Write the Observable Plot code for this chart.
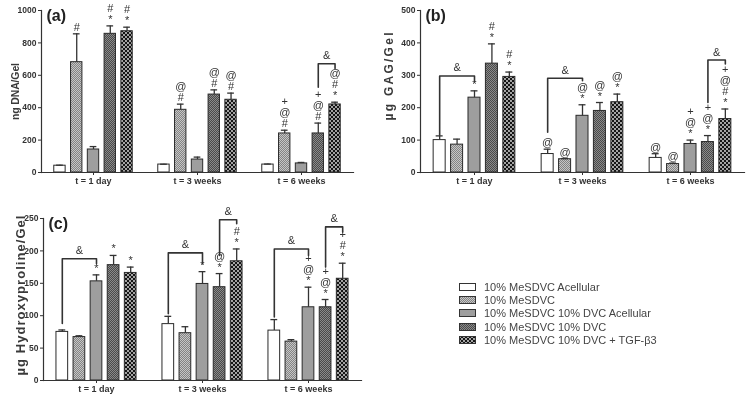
<!DOCTYPE html>
<html><head><meta charset="utf-8">
<script src="https://cdn.jsdelivr.net/npm/d3@7"></script>
<script src="https://cdn.jsdelivr.net/npm/@observablehq/plot@0.6"></script>
<style>
body{margin:0;background:#fff;}
#root{position:relative;width:754px;height:400px;overflow:hidden;font-family:"Liberation Sans",Arial,sans-serif;background:#fff;filter:grayscale(1);}
.panel{position:absolute;}
.panel svg{overflow:visible;}
#legend{position:absolute;left:459px;top:280px;font-size:11px;color:#444;font-family:"Liberation Sans",Arial,sans-serif;}
.row{display:flex;align-items:center;height:13.3px;white-space:nowrap;}
.row svg{margin-right:8px;}
</style></head><body>
<svg width="0" height="0" style="position:absolute">
<defs>
<pattern id="hatchLight" width="2" height="2" patternUnits="userSpaceOnUse">
<rect width="2" height="2" fill="#c6c6c6"/><rect width="1" height="1" fill="#848484"/><rect x="1" y="1" width="1" height="1" fill="#848484"/>
</pattern>
<pattern id="hatchDark" width="2" height="2" patternUnits="userSpaceOnUse">
<rect width="2" height="2" fill="#8a8a8a"/><rect width="1" height="1" fill="#4a4a4a"/><rect x="1" y="1" width="1" height="1" fill="#4a4a4a"/>
</pattern>
<pattern id="dots" width="4" height="4" patternUnits="userSpaceOnUse">
<rect width="4" height="4" fill="#151515"/><circle cx="1" cy="1" r="0.9" fill="#e8e8e8"/><circle cx="3" cy="3" r="0.9" fill="#e8e8e8"/>
</pattern>
</defs>
</svg>
<div id="root">
<div id="pa" class="panel" style="left:0;top:0"></div>
<div id="pb" class="panel" style="left:370px;top:0"></div>
<div id="pc" class="panel" style="left:0;top:200px"></div>
<div id="legend"></div>
</div>
<script>
const times = ["t = 1 day", "t = 3 weeks", "t = 6 weeks"];
const groups = ["10% MeSDVC Acellular", "10% MeSDVC", "10% MeSDVC 10% DVC Acellular", "10% MeSDVC 10% DVC", "10% MeSDVC 10% DVC + TGF-β3"];
const fills = ["#ffffff", "url(#hatchLight)", "#9e9e9e", "url(#hatchDark)", "url(#dots)"];

// (a) ng DNA/Gel : rows = time points, columns = groups
const dnaMean = [[42, 681, 142, 856, 872], [49, 387, 80, 481, 449], [49, 241, 56, 241, 420]];
const dnaSd   = [[3, 175, 18, 49, 25], [2, 35, 15, 29, 41], [3, 20, 6, 64, 14]];
const dnaSig  = [
  [[], ["#"], [], ["#", "*"], ["#", "*"]],
  [[], ["@", "#"], [], ["@", "#"], ["@", "#"]],
  [[], ["+", "@", "#"], [], ["+", "@", "#"], ["@", "#", "*"]]
];
const dnaBrackets = [{time: 2, from: 3, to: 4, top: 671, left: 527, right: 642}];
const dnaTicks = [0, 200, 400, 600, 800, 1000];

// (b) µg GAG/Gel
const gagMean = [[100, 86, 231, 336, 295], [57, 41, 175, 190, 217], [45, 26, 88, 94, 165]];
const gagSd   = [[13, 17, 21, 61, 15], [15, 2, 34, 26, 25], [13, 3, 12, 20, 31]];
const gagSig  = [
  [[], [], ["*"], ["#", "*"], ["#", "*"]],
  [["@"], ["@"], ["@", "*"], ["@", "*"], ["@", "*"]],
  [["@"], ["@"], ["+", "@", "*"], ["+", "@", "*"], ["+", "@", "#", "*"]]
];
const gagBrackets = [
  {time: 0, from: 0, to: 2, top: 298, left: 116, right: 280},
  {time: 1, from: 0, to: 2, top: 291, left: 124, right: 283},
  {time: 2, from: 3, to: 4, top: 347, left: 216, right: 335}
];
const gagTicks = [0, 100, 200, 300, 400, 500];

// (c) µg Hydroxyproline/Gel
const hypMean = [[75, 67, 153, 178, 166], [87, 73, 149, 144, 184], [77, 60, 113, 113, 157]];
const hypSd   = [[3, 2, 10, 15, 9], [12, 10, 19, 21, 19], [17, 3, 31, 12, 24]];
const hypSig  = [
  [[], [], ["*"], ["*"], ["*"]],
  [[], [], ["*"], ["@", "*"], ["#", "*"]],
  [[], [], ["+", "@", "*"], ["+", "@", "*"], ["+", "#", "*"]]
];
const hypBrackets = [
  {time: 0, from: 0, to: 2, top: 188, left: 88, right: 180},
  {time: 1, from: 0, to: 2, top: 197, left: 103, right: 180},
  {time: 1, from: 3, to: 4, top: 248, left: 193, right: 242},
  {time: 2, from: 0, to: 2, top: 203, left: 98, right: 193},
  {time: 2, from: 3, to: 4, top: 237, left: 175, right: 229}
];
const hypTicks = [0, 50, 100, 150, 200, 250];

const FONT = '"Liberation Sans", Arial, sans-serif';

function panel(cfg) {
  const rows = [];
  cfg.mean.forEach((r, ti) => r.forEach((m, gi) => rows.push({
    time: times[ti], pos: gi, group: groups[gi], mean: m, top: m + cfg.sd[ti][gi],
    sig: cfg.sig[ti][gi].join("\n")
  })));
  const bpts = [];
  cfg.brackets.forEach((b, k) => {
    const t = times[b.time];
    bpts.push({k, time: t, x: b.from, y: b.left}, {k, time: t, x: b.from, y: b.top},
              {k, time: t, x: b.to, y: b.top}, {k, time: t, x: b.to, y: b.right});
  });
  const svg = Plot.plot({
    width: cfg.width, height: cfg.height,
    marginLeft: cfg.ml, marginRight: cfg.mr, marginTop: cfg.mt, marginBottom: cfg.mb,
    style: {fontFamily: FONT, background: "transparent", color: "#333"},
    fx: {domain: times, padding: 0, label: null},
    x: {domain: [-1.1, 5.1], axis: null},
    y: {domain: [0, cfg.ticks[cfg.ticks.length - 1]], axis: null},
    color: {type: "ordinal", domain: groups, range: fills},
    marks: [
      Plot.rectY(rows, {fx: "time", x1: d => d.pos - 0.5, x2: d => d.pos + 0.5, y1: 0, y2: "mean",
        fill: "group", stroke: "#2a2a2a", strokeWidth: 1, insetLeft: 2.7, insetRight: 2.7}),
      Plot.ruleX(rows, {fx: "time", x: "pos", y1: "mean", y2: "top", stroke: "#333", strokeWidth: 1.3}),
      Plot.ruleY(rows, {fx: "time", y: "top", x1: d => d.pos - 0.2, x2: d => d.pos + 0.2, stroke: "#333", strokeWidth: 1.3}),
      Plot.text(rows.filter(d => d.sig), {fx: "time", x: "pos", y: "top", text: "sig",
        lineAnchor: "bottom", dy: -3, fontSize: 11, lineHeight: 1.0, fill: "#333"}),
      Plot.line(bpts, {fx: "time", x: "x", y: "y", z: "k", stroke: "#333", strokeWidth: 1.6}),
      Plot.text(cfg.brackets, {fx: b => times[b.time], x: b => (b.from + b.to) / 2, y: "top",
        text: () => "&", dy: -8, fontSize: 11, fill: "#333"}),
      Plot.frame({anchor: "left", facet: "super", stroke: "#333", strokeWidth: 1.2}),
      Plot.frame({anchor: "bottom", facet: "super", stroke: "#333", strokeWidth: 1.2}),
      Plot.axisY({ticks: cfg.ticks, tickFormat: d => String(d), tickSize: 3, tickPadding: 2,
        fontSize: 8.5, fontWeight: "bold", color: "#333",
        label: cfg.label, labelAnchor: "center", labelOffset: cfg.labelOffset, labelArrow: "none"}),
      Plot.axisFx({anchor: "bottom", tickSize: 3, tickPadding: 2, label: null,
        fontSize: 9, fontWeight: "bold", color: "#333"}),
      Plot.text([cfg.tag], {fx: () => times[0], frameAnchor: "top-left", dx: 5, dy: -1,
        lineAnchor: "top", fontSize: 16, fontWeight: "bold", fill: "#222"})
    ]
  });
  const lab = svg.querySelector('g[aria-label="y-axis label"] text');
  if (lab) {
    lab.setAttribute("font-size", cfg.labelSize);
    lab.setAttribute("font-weight", "bold");
    lab.setAttribute("fill", "#3a3a3a");
    lab.setAttribute("textLength", cfg.labelLength);
    lab.setAttribute("lengthAdjust", "spacing");
    if (cfg.labelShift) lab.setAttribute("dx", cfg.labelShift);
  }
  document.getElementById(cfg.el).appendChild(svg);
}

panel({el: "pa", width: 372, height: 195, ml: 40, mr: 18, mt: 10, mb: 23,
  mean: dnaMean, sd: dnaSd, sig: dnaSig, brackets: dnaBrackets, ticks: dnaTicks,
  label: "ng DNA/Gel", labelOffset: 30, labelSize: 10.5, labelLength: 57, tag: "(a)"});
panel({el: "pb", width: 384, height: 195, ml: 50, mr: 10, mt: 10, mb: 23,
  mean: gagMean, sd: gagSd, sig: gagSig, brackets: gagBrackets, ticks: gagTicks,
  label: "µg GAG/Gel", labelOffset: 36, labelSize: 12, labelLength: 88, labelShift: 15, tag: "(b)"});
panel({el: "pc", width: 372, height: 200, ml: 42, mr: 10, mt: 18, mb: 20,
  mean: hypMean, sd: hypSd, sig: hypSig, brackets: hypBrackets, ticks: hypTicks,
  label: "µg Hydroxyproline/Gel", labelOffset: 28, labelSize: 13, labelLength: 160, labelShift: 4, tag: "(c)"});

// legend
const legend = d3.select("#legend");
groups.forEach((g, i) => {
  const row = legend.append("div").attr("class", "row");
  const s = row.append("svg").attr("width", 17).attr("height", 8);
  s.append("rect").attr("x", 0.5).attr("y", 0.5).attr("width", 16).attr("height", 7)
    .attr("fill", fills[i]).attr("stroke", "#333").attr("stroke-width", 1);
  row.append("span").text(g);
});
</script>
</body></html>
